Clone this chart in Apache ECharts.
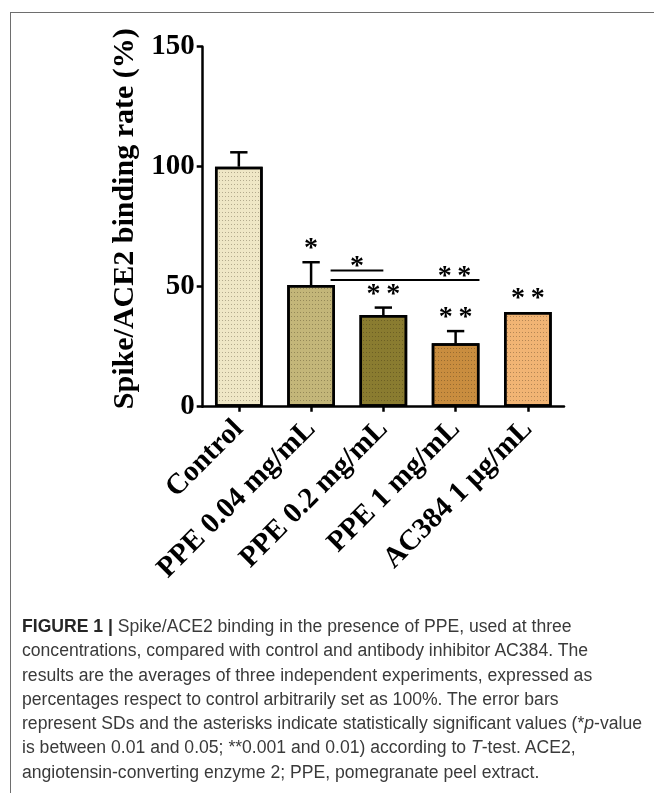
<!DOCTYPE html>
<html>
<head>
<meta charset="utf-8">
<script src="https://cdn.jsdelivr.net/npm/echarts@6/dist/echarts.min.js"></script>
<style>
  html, body { margin: 0; padding: 0; background: #fff; }
  #wrap { position: relative; width: 654px; height: 793px; overflow: hidden; }
  #chart { position: absolute; left: 0; top: 0; width: 654px; height: 793px; }
  #frame { position: absolute; left: 10px; top: 12px; width: 660px; height: 800px;
           border-top: 1.5px solid #6e6e6e; border-left: 1.5px solid #6e6e6e; }
  #caption { position: absolute; left: 22px; top: 614px; width: 640px;
             font-family: "Liberation Sans", Arial, sans-serif; font-weight: 400;
             font-size: 17.6px; line-height: 24.3px; color: #3a3a3a; white-space: nowrap; }
  #caption b { font-weight: 700; color: #262626; }
</style>
</head>
<body>
<div id="wrap">
  <div id="frame"></div>
  <div id="chart"></div>
  <div id="caption">
    <div><b>FIGURE 1 |</b> Spike/ACE2 binding in the presence of PPE, used at three</div>
    <div>concentrations, compared with control and antibody inhibitor AC384. The</div>
    <div>results are the averages of three independent experiments, expressed as</div>
    <div>percentages respect to control arbitrarily set as 100%. The error bars</div>
    <div>represent SDs and the asterisks indicate statistically significant values (*<i>p</i>-value</div>
    <div>is between 0.01 and 0.05; **0.001 and 0.01) according to <i>T</i>-test. ACE2,</div>
    <div>angiotensin-converting enzyme 2; PPE, pomegranate peel extract.</div>
  </div>
</div>
<script>
// Groups on the x axis
const categories = ['Control', 'PPE 0.04 mg/mL', 'PPE 0.2 mg/mL', 'PPE 1 mg/mL', 'AC384 1 \u03bcg/mL'];
// Mean binding rate (%) and SD for each group
const bindingRate = [100, 50.7, 38.2, 26.4, 39.5];
const bindingSD = [6, 9.5, 3.1, 5.1, 0];
// Significance vs control, one mark per group
const sigMarks = ['', '*', '**', '**', '**'];
// Pairwise comparisons drawn as horizontal bars (category positions, level, mark)
const pairStart = [1.27, 1.27];
const pairEnd = [2.0, 3.33];
const pairLevel = [56.7, 52.8];
const pairMark = ['*', '**'];
// Y axis ticks
const yTicks = [0, 50, 100, 150];

const barColors = ['#efe7c6', '#c3b679', '#8a7c30', '#c98d3f', '#f1b474'];
const serif = '"Liberation Serif", "Times New Roman", serif';
const starFont = 'bold 28px ' + serif;

const chart = echarts.init(document.getElementById('chart'), null, { renderer: 'canvas' });

function dotDecal() {
  return {
    symbol: 'rect',
    symbolSize: 1,
    dashArrayX: [1, 2],
    dashArrayY: [1, 3],
    color: 'rgba(40,30,10,0.30)'
  };
}

// locate a fractional category position in pixels
function catX(api, pos) {
  const i = Math.floor(pos + 1e-9);
  const band = api.size([1, 0])[0];
  return api.coord([i, 0])[0] + (pos - i) * band;
}

function spaced(s) {
  return s.split('').join('\u2009');
}

const option = {
  animation: false,
  grid: { left: 202.7, right: 90, top: 46.7, bottom: 386.3, containLabel: false },
  xAxis: {
    type: 'category',
    data: categories,
    boundaryGap: true,
    axisLine: { lineStyle: { color: '#000', width: 2.5 } },
    axisTick: { show: true, alignWithLabel: true, length: 5, lineStyle: { color: '#000', width: 2.5 } },
    axisLabel: {
      rotate: 45, margin: 18, interval: 0,
      fontFamily: serif, fontWeight: 'bold', fontSize: 29, color: '#000'
    }
  },
  yAxis: {
    type: 'value',
    min: yTicks[0], max: yTicks[yTicks.length - 1], interval: 50,
    name: 'Spike/ACE2 binding rate (%)',
    nameLocation: 'middle', nameRotate: 90, nameGap: 57,
    nameTextStyle: { fontFamily: serif, fontWeight: 'bold', fontSize: 30, color: '#000', padding: [0, 0, 0, 16] },
    splitLine: { show: false },
    axisLine: { show: true, lineStyle: { color: '#000', width: 2.5 } },
    axisTick: { show: true, length: 6, lineStyle: { color: '#000', width: 2.5 } },
    axisLabel: { margin: 8, fontFamily: serif, fontWeight: 'bold', fontSize: 29, color: '#000' }
  },
  series: [
    {
      type: 'bar',
      barWidth: '66%',
      data: bindingRate.map((v, i) => ({
        value: v,
        itemStyle: { color: barColors[i], borderColor: '#000', borderWidth: 2.5, decal: dotDecal() }
      })),
      z: 2
    },
    {
      // SD error bars (upper half only)
      type: 'custom',
      z: 3,
      data: bindingRate.map((v, i) => [i, v, bindingSD[i]]),
      renderItem: function (params, api) {
        const i = api.value(0), v = api.value(1), sd = api.value(2);
        if (!sd) return null;
        const base = api.coord([i, v]);
        const top = api.coord([i, v + sd]);
        const half = api.size([1, 0])[0] * 0.12;
        const st = { stroke: '#000', lineWidth: 2.5 };
        return {
          type: 'group',
          children: [
            { type: 'line', shape: { x1: base[0], y1: base[1], x2: top[0], y2: top[1] }, style: st },
            { type: 'line', shape: { x1: top[0] - half, y1: top[1], x2: top[0] + half, y2: top[1] }, style: st }
          ]
        };
      }
    },
    {
      // significance marks above each group
      type: 'custom',
      z: 4,
      data: bindingRate.map((v, i) => [i, v + bindingSD[i]]),
      renderItem: function (params, api) {
        const i = api.value(0);
        const mark = sigMarks[i];
        if (!mark) return null;
        const p = api.coord([i, api.value(1)]);
        return {
          type: 'text',
          style: {
            x: p[0], y: p[1] - 13, text: spaced(mark),
            align: 'center', verticalAlign: 'middle',
            font: starFont, fill: '#000'
          }
        };
      }
    },
    {
      // pairwise comparison bars
      type: 'custom',
      z: 4,
      data: pairLevel.map((lv, k) => [k, lv]),
      renderItem: function (params, api) {
        const k = api.value(0);
        const y = api.coord([0, pairLevel[k]])[1];
        const x1 = catX(api, pairStart[k]);
        const x2 = catX(api, pairEnd[k]);
        const tx = pairMark[k].length > 1 ? x2 - 25 : (x1 + x2) / 2;
        return {
          type: 'group',
          children: [
            { type: 'line', shape: { x1: x1, y1: y, x2: x2, y2: y }, style: { stroke: '#000', lineWidth: 2 } },
            {
              type: 'text',
              style: {
                x: tx, y: y - 3.5, text: spaced(pairMark[k]),
                align: 'center', verticalAlign: 'middle',
                font: starFont, fill: '#000'
              }
            }
          ]
        };
      }
    }
  ]
};

chart.setOption(option);
</script>
</body>
</html>
